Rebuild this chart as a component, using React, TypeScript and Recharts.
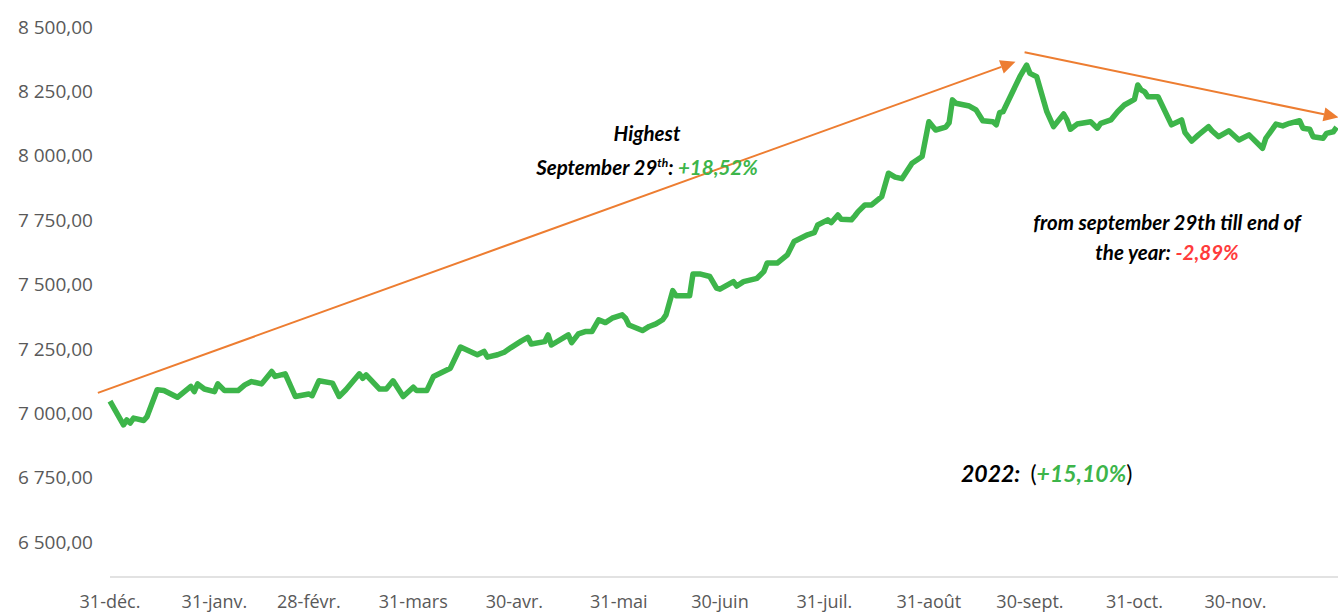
import { CartesianGrid, Line, LineChart, ReferenceLine, XAxis, YAxis } from "recharts";

// days since 31 Dec 2021 and index close
const days = [
  0, 4, 5, 6, 7, 10, 11, 14, 16, 20, 24, 25, 26, 28, 31, 32, 34, 38, 40, 42, 45, 48, 49, 52, 55, 59,
  60, 62, 66, 68, 70, 74, 75, 76, 80, 82, 84, 87, 90, 91, 94, 96, 101, 104, 109, 111, 112, 115, 117,
  119, 122, 124, 125, 129, 130, 131, 136, 137, 139, 141, 143, 145, 147, 149, 152, 153, 154, 158, 160,
  162, 164, 165, 167, 168, 172, 173, 175, 178, 180, 181, 185, 186, 188, 192, 194, 195, 198, 201, 203,
  207, 209, 210, 213, 214, 216, 217, 220, 221, 222, 224, 226, 229, 231, 233, 235, 238, 241, 243, 245,
  248, 249, 250, 251, 255, 257, 259, 262, 263, 264, 265, 270, 272, 273, 275, 278, 280, 283, 284, 285,
  287, 291, 293, 294, 297, 299, 301, 304, 305, 306, 307, 308, 311, 315, 318, 319, 321, 323, 326, 327,
  329, 332, 335, 338, 342, 343, 346, 348, 350, 353, 354, 356, 357, 360, 361, 363, 364,
];
const closes = [
  7047, 6955, 6974, 6962, 6981, 6972, 6987, 7091, 7088, 7062, 7104, 7084, 7114, 7094, 7084, 7114, 7088,
  7088, 7110, 7123, 7114, 7162, 7143, 7153, 7065, 7075, 7068, 7126, 7117, 7065, 7091, 7153, 7136, 7149,
  7094, 7094, 7126, 7065, 7101, 7088, 7088, 7143, 7175, 7257, 7227, 7240, 7218, 7227, 7237, 7255, 7280,
  7295, 7269, 7278, 7304, 7265, 7304, 7274, 7308, 7317, 7317, 7363, 7352, 7369, 7382, 7369, 7343, 7321,
  7337, 7347, 7363, 7382, 7476, 7456, 7456, 7541, 7541, 7531, 7486, 7482, 7511, 7494, 7511, 7524, 7550,
  7583, 7583, 7615, 7667, 7693, 7701, 7731, 7751, 7740, 7770, 7753, 7751, 7766, 7783, 7809, 7809, 7841,
  7932, 7917, 7911, 7971, 7997, 8132, 8100, 8111, 8128, 8217, 8204, 8193, 8178, 8136, 8132, 8120, 8167,
  8171, 8307, 8352, 8320, 8307, 8171, 8113, 8162, 8139, 8103, 8123, 8132, 8107, 8126, 8139, 8171, 8197,
  8219, 8275, 8255, 8249, 8229, 8229, 8120, 8139, 8090, 8057, 8081, 8113, 8097, 8074, 8097, 8061, 8081,
  8029, 8068, 8123, 8116, 8126, 8136, 8107, 8103, 8074, 8068, 8087, 8093, 8111,
];

const monthTicks = [0, 31, 59, 90, 120, 151, 181, 212, 243, 273, 304, 334];
const monthLabels = [
  "31-déc.", "31-janv.", "28-févr.", "31-mars", "30-avr.", "31-mai",
  "30-juin", "31-juil.", "31-août", "30-sept.", "31-oct.", "30-nov.",
];
const valueTicks = [6500, 6750, 7000, 7250, 7500, 7750, 8000, 8250, 8500];

// trend arrows (day, value)
const riseArrow = [{ x: -3.6, y: 7079 }, { x: 268.7, y: 8365 }];
const fallArrow = [{ x: 271.4, y: 8402 }, { x: 364.6, y: 8149 }];

const data = days.map((d, i) => ({ day: d, close: closes[i] }));

const GREEN = "#3db54a";
const ORANGE = "#ed7d31";

const fmt = (v: number) => {
  const s = Math.round(v).toString();
  return s.slice(0, s.length - 3) + " " + s.slice(-3) + ",00";
};

const Arrow = (props: any) => {
  const { x1, y1, x2, y2 } = props;
  const a = Math.atan2(y2 - y1, x2 - x1);
  const len = 15;
  const w = 7;
  const bx = x2 - len * Math.cos(a);
  const by = y2 - len * Math.sin(a);
  const px = -Math.sin(a) * w;
  const py = Math.cos(a) * w;
  return (
    <g>
      <line x1={x1} y1={y1} x2={bx} y2={by} stroke={ORANGE} strokeWidth={2} />
      <polygon
        points={`${x2},${y2} ${bx + px},${by + py} ${bx - px},${by - py}`}
        fill={ORANGE}
      />
    </g>
  );
};

const note: React.CSSProperties = {
  position: "absolute",
  fontFamily: "Lato, 'Open Sans', sans-serif",
  fontWeight: 700,
  fontStyle: "italic",
  fontSize: 20.5,
  color: "#000",
  textAlign: "center",
  whiteSpace: "nowrap",
  lineHeight: "30px",
};

export default function App() {
  return (
    <div
      style={{
        position: "absolute",
        left: 0,
        top: 0,
        width: 1338,
        height: 616,
        overflow: "hidden",
        background: "#fff",
      }}
    >
      <LineChart
        width={1340}
        height={616}
        data={data}
        margin={{ top: 27, right: 0, bottom: 0, left: 0 }}
      >
        <CartesianGrid horizontal={false} vertical={false} />
        <XAxis
          dataKey="day"
          type="number"
          domain={[0, 365]}
          ticks={monthTicks}
          tickFormatter={(v: number) => monthLabels[monthTicks.indexOf(v)]}
          height={39}
          tickSize={0}
          tickMargin={18}
          axisLine={{ stroke: "#d9d9d9", strokeWidth: 1.5 }}
          tick={{ fill: "#595959", fontSize: 18, fontFamily: "'Open Sans', sans-serif" }}
          interval={0}
        />
        <YAxis
          type="number"
          domain={[6364, 8500]}
          ticks={valueTicks}
          tickFormatter={fmt}
          width={110}
          tickSize={0}
          tickMargin={17}
          axisLine={false}
          tick={{ fill: "#595959", fontSize: 19, fontFamily: "'Open Sans', sans-serif" }}
          interval={0}
        />
        <ReferenceLine segment={riseArrow} ifOverflow="visible" shape={Arrow} />
        <ReferenceLine segment={fallArrow} ifOverflow="visible" shape={Arrow} />
        <Line
          type="linear"
          dataKey="close"
          stroke={GREEN}
          strokeWidth={5.5}
          dot={false}
          isAnimationActive={false}
          strokeLinejoin="round"
        />
      </LineChart>

      <div style={{ ...note, left: 497, top: 118, width: 300 }}>
        Highest
        <br />
        September 29<sup style={{ fontSize: 12 }}>th</sup>:{" "}
        <span style={{ color: GREEN }}>+18,52%</span>
      </div>

      <div style={{ ...note, left: 997, top: 207, width: 340 }}>
        from september 29th till end of
        <br />
        the year: <span style={{ color: "#ff3b3b" }}>-2,89%</span>
      </div>

      <div style={{ ...note, left: 961, top: 458, width: 200, fontSize: 23, textAlign: "left" }}>
        2022:&nbsp;&nbsp;
        <span style={{ fontWeight: 400, fontStyle: "normal" }}>(</span>
        <span style={{ color: GREEN }}>+15,10%</span>
        <span style={{ fontWeight: 400, fontStyle: "normal" }}>)</span>
      </div>
    </div>
  );
}
